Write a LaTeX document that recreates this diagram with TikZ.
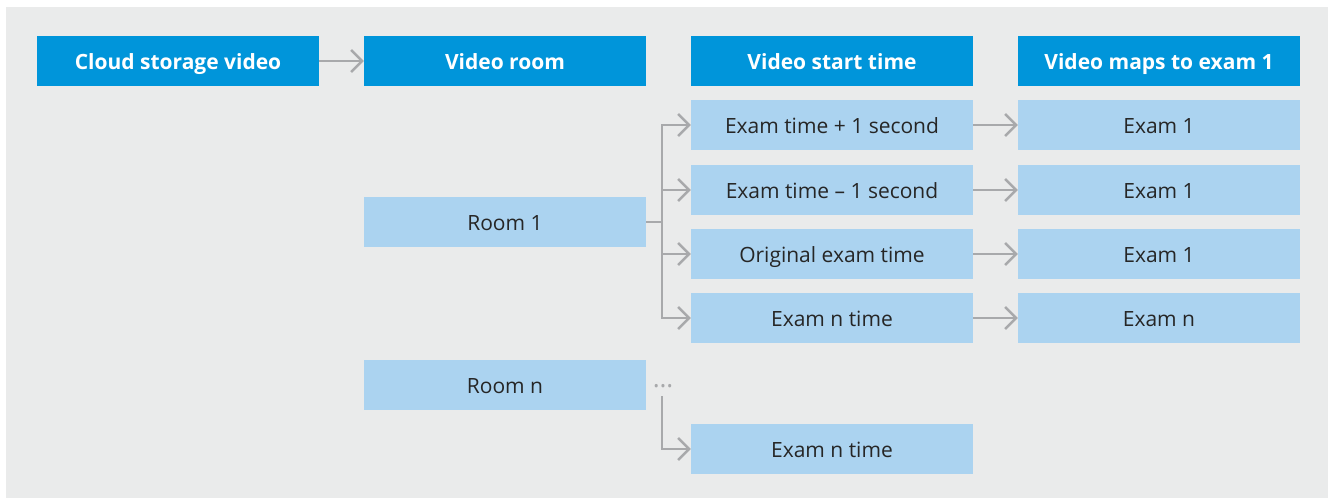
\documentclass[tikz,border=0pt]{standalone}
\usepackage{fontspec}
\setmainfont{Open Sans}
\usetikzlibrary{arrows.meta}
\definecolor{bgGray}{HTML}{EAEBEB}
\definecolor{headBlue}{HTML}{0095DA}
\definecolor{cellBlue}{HTML}{ABD3F0}
\definecolor{lineGray}{HTML}{A8A9AB}
\begin{document}
\begin{tikzpicture}[x=1pt, y=-1pt]
        \tikzset{head/.style={fill=headBlue, text=white, font=\fontsize{21}{24}\selectfont\bfseries, minimum width=282pt, minimum height=50pt, inner sep=0pt, text height=18pt, text depth=1pt},
                 cell/.style={fill=cellBlue, text=black!85, font=\fontsize{21}{24}\selectfont, minimum width=282pt, minimum height=50pt, inner sep=0pt, text height=18pt, text depth=1pt},
                 link/.style={draw=lineGray, line width=2.5pt, -{Straight Barb[length=11pt, width=22pt, line width=2.5pt]}}}
        \useasboundingbox (0,0) rectangle (1328,498);
        \fill [bgGray] (6,7) rectangle (1328,498);
        % header row
        \node [head] (cloud)  at (178, 61){Cloud storage video};
        \node [head] (room)   at (505, 61){Video room};
        \node [head] (start)  at (832, 61){Video start time};
        \node [head] (maps)   at (1159,61){Video maps to exam 1};
        % rooms
        \node [cell] (room1)  at (505,222){Room 1};
        \node [cell] (roomn)  at (505,385){Room n};
        % start times
        \node [cell] (plus)   at (832,125){Exam time + 1 second};
        \node [cell] (minus)  at (832,190){Exam time -- 1 second};
        \node [cell] (orig)   at (832,254){Original exam time};
        \node [cell] (ntime)  at (832,318){Exam n time};
        \node [cell] (ntime2) at (832,449){Exam n time};
        % exams
        \node [cell] (exam1)  at (1159,125){Exam 1};
        \node [cell] (exam2)  at (1159,190){Exam 1};
        \node [cell] (exam3)  at (1159,254){Exam 1};
        \node [cell] (examn)  at (1159,318){Exam n};
        \node [text=lineGray, font=\fontsize{26}{26}\selectfont, inner sep=0pt] (dots) at (663,386){\dots};
        \coordinate (fork) at (662,222);
        \draw [link] (cloud) -- (room);
        \draw [draw=lineGray, line width=2.5pt] (room1) -- (fork);
        \draw [link] (fork) |- (plus);
        \draw [link] (fork) |- (minus);
        \draw [link] (fork) |- (orig);
        \draw [link] (fork) |- (ntime);
        \draw [link] (662,396) |- (ntime2);
        \draw [link] (plus)  -- (exam1);
        \draw [link] (minus) -- (exam2);
        \draw [link] (orig)  -- (exam3);
        \draw [link] (ntime) -- (examn);
    \end{tikzpicture}
\end{document}
